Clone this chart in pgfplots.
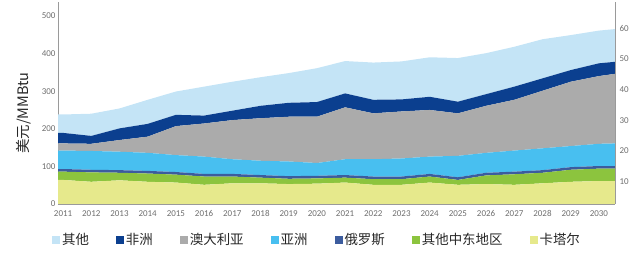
\documentclass[border=0pt]{standalone}
\usepackage{pgfplots}
\pgfplotsset{compat=1.18}
\usepackage{pgfplotstable}
\usepackage{fontspec}
\setmainfont{Carlito}
\newfontfamily\cjk{Noto Sans CJK SC}
\definecolor{cOther}{HTML}{C4E4F6}
\definecolor{cAfrica}{HTML}{0B3F8F}
\definecolor{cAus}{HTML}{ABABAB}
\definecolor{cAsia}{HTML}{48BFF0}
\definecolor{cRussia}{HTML}{3C5C9E}
\definecolor{cMEast}{HTML}{8CC43E}
\definecolor{cQatar}{HTML}{E6E98C}
\definecolor{cTick}{HTML}{6E6E6E}
\definecolor{cAxis}{HTML}{9A9A9A}

\pgfplotstableread{
year qatar meast russia asia aus africa other
2010.82 64 22 7 49 19 28 49
2011 64 22 7 49 19 28 49
2012 59 25 7 50 19 21 59
2013 63 20 7 49 31 31 53
2014 59 22 7 48 43 34 64
2015 57 21 7 45 77 30 62
2016 51 22 7 46 88 21 77
2017 55 18 7 39 104 25 77
2018 55 15 7 38 113 33 76
2019 53 14 7 39 119 37 79
2020 54 14 7 34 123 39 90
2021 57 13 7 42 138 37 86
2022 51 15 7 46 122 36 99
2023 51 15 7 48 125 32 101
2024 57 16 7 46 124 35 105
2025 51 13 7 57 113 31 116
2026 53 23 7 53 125 31 109
2027 51 28 7 56 135 35 106
2028 55 28 7 58 153 33 104
2029 59 32 7 56 171 31 93
2030 61 33 7 59 180 34 87
2030.57 61 33 7 60 185 32 87
}\data

\begin{document}
\begin{tikzpicture}
\path (0,0) rectangle (640bp,261bp);
\begin{axis}[
  at={(58bp,57bp)}, anchor=south west,
  scale only axis, width=557bp, height=202bp,
  xmin=2010.82, xmax=2030.57, ymin=0, ymax=537,
  axis x line*=bottom, axis y line*=left,
  axis line style={draw=cAxis, line width=0.8pt},
  xtick={2011,2012,...,2030}, ytick={0,100,...,500},
  /pgf/number format/assume math mode=true,
  /pgf/number format/set thousands separator={},
  tick label style={font=\fontsize{9}{9}\selectfont, text=cTick},
  xticklabel style={yshift=-3bp},
  yticklabel style={xshift=1bp},
  major tick length=0pt,
  stack plots=y,
  ylabel={\cjk 美元/MMBtu},
  ylabel style={at={(axis description cs:-0.062,0.45)}, anchor=center, font=\fontsize{14.5}{14.5}\selectfont, text=black!85},
  reverse legend,
  legend columns=7,
  legend image code/.code={\fill (0bp,-4bp) rectangle (8bp,4bp);},
  legend style={at={(axis description cs:0.465,-0.178)}, anchor=center, draw=none, fill=none,
    font=\cjk\fontsize{13.5}{14}\selectfont, text=black!85,
    /tikz/every even column/.append style={column sep=25bp},
    /tikz/every odd column/.append style={column sep=0bp},
    inner sep=0pt},
]
\addplot[fill=cQatar, draw=none] table[x=year,y=qatar]{\data} \closedcycle;
\addlegendentry{卡塔尔}
\addplot[fill=cMEast, draw=none] table[x=year,y=meast]{\data} \closedcycle;
\addlegendentry{其他中东地区}
\addplot[fill=cRussia, draw=none] table[x=year,y=russia]{\data} \closedcycle;
\addlegendentry{俄罗斯}
\addplot[fill=cAsia, draw=none] table[x=year,y=asia]{\data} \closedcycle;
\addlegendentry{亚洲}
\addplot[fill=cAus, draw=none] table[x=year,y=aus]{\data} \closedcycle;
\addlegendentry{澳大利亚}
\addplot[fill=cAfrica, draw=none] table[x=year,y=africa]{\data} \closedcycle;
\addlegendentry{非洲}
\addplot[fill=cOther, draw=none] table[x=year,y=other]{\data} \closedcycle;
\addlegendentry{其他}
\end{axis}
\begin{axis}[
  at={(58bp,57bp)}, anchor=south west,
  scale only axis, width=557bp, height=202bp,
  xmin=2010.82, xmax=2030.57, ymin=2.7, ymax=68.5,
  axis y line*=right, hide x axis,
  axis line style={draw=cAxis, line width=0.8pt},
  ytick={10,20,...,60},
  /pgf/number format/assume math mode=true,
  tick label style={font=\fontsize{9}{9}\selectfont, text=cTick},
  yticklabel style={xshift=1bp},
  major tick length=0pt,
]
\addplot[draw=none] coordinates {(2011,10) (2030,60)};
\end{axis}
\end{tikzpicture}
\end{document}
